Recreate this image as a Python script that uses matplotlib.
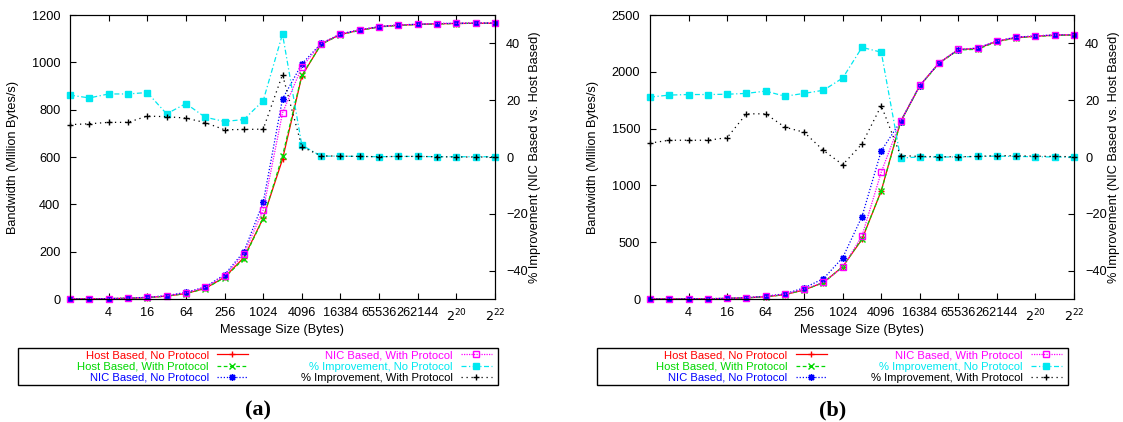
import matplotlib
matplotlib.use("Agg")
import matplotlib.pyplot as plt
from matplotlib.patches import Rectangle

plt.rcParams['font.family'] = ['Liberation Sans', 'DejaVu Sans']
plt.rcParams['font.size'] = 9.2

sizes = [1, 2, 4, 8, 16, 32, 64, 128, 256, 512, 1024, 2048, 4096, 8192, 16384,
         32768, 65536, 131072, 262144, 524288, 1048576, 2097152, 4194304]
tick_pos = [4, 16, 64, 256, 1024, 4096, 16384, 65536, 262144, 1048576, 4194304]
tick_labels = ["4", "16", "64", "256", "1024", "4096", "16384", "65536", "262144",
               "$2^{20}$", "$2^{22}$"]

# panel (a)
a_host_np = [0.3, 0.7, 1.5, 3, 6, 12, 23, 45, 92, 175, 342, 590, 942, 1077, 1118, 1136, 1150, 1157, 1160, 1163, 1164, 1165, 1165]
a_host_wp = [0.3, 0.7, 1.5, 3, 6, 12, 23, 44, 90, 170, 340, 605, 945, 1076, 1117, 1135, 1149, 1156, 1160, 1162, 1164, 1165, 1165]
a_nic_np = [0.4, 0.8, 1.8, 3.6, 7.3, 14, 28, 51, 103, 200, 408, 845, 993, 1080, 1120, 1138, 1151, 1158, 1161, 1164, 1165, 1166, 1166]
a_nic_wp = [0.35, 0.8, 1.7, 3.4, 7, 13.5, 26, 49, 98, 190, 376, 786, 980, 1079, 1119, 1137, 1150, 1158, 1161, 1164, 1165, 1166, 1166]
a_imp_np = [21.8, 20.8, 22.2, 22.2, 22.7, 15.2, 18.8, 14.0, 12.5, 13.2, 19.8, 43.3, 4.2, 0.3, 0.3, 0.2, 0.1, 0.2, 0.2, 0.1, 0.1, 0.1, 0.1]
a_imp_wp = [11.4, 11.7, 12.2, 12.2, 14.4, 14.2, 13.7, 12.1, 9.6, 9.7, 9.8, 29.0, 3.6, 0.4, 0.3, 0.2, 0.1, 0.2, 0.2, 0.1, 0.0, 0.0, 0.0]

# panel (b)
b_host_np = [0.3, 0.6, 1.2, 2.5, 5, 10, 20, 38, 80, 145, 285, 525, 953, 1560, 1878, 2078, 2195, 2205, 2268, 2300, 2313, 2322, 2325]
b_host_wp = [0.3, 0.6, 1.2, 2.5, 5, 10, 20, 38, 80, 144, 284, 532, 950, 1558, 1876, 2075, 2192, 2198, 2266, 2298, 2312, 2320, 2324]
b_nic_np = [0.37, 0.73, 1.5, 3, 6.1, 12.2, 24.6, 46, 98, 179, 364, 726, 1305, 1562, 1879, 2079, 2196, 2210, 2272, 2305, 2316, 2325, 2328]
b_nic_wp = [0.32, 0.64, 1.27, 2.65, 5.3, 11.5, 23, 42, 87, 148, 278, 556, 1117, 1565, 1880, 2080, 2197, 2208, 2272, 2303, 2315, 2324, 2327]
b_imp_np = [21.1, 21.8, 22.0, 22.0, 22.1, 22.4, 23.2, 21.4, 22.4, 23.5, 27.8, 38.6, 36.9, -0.35, 0.0, 0.0, 0.0, 0.2, 0.3, 0.2, 0.1, 0.0, 0.0]
b_imp_wp = [4.9, 5.9, 5.9, 5.9, 6.8, 15.2, 15.2, 10.5, 8.7, 2.3, -2.7, 4.6, 18.1, 0.5, 0.2, 0.1, 0.1, 0.2, 0.5, 0.4, 0.3, 0.2, 0.1]

RED = "#ff0000"
GREEN = "#00d800"
BLUE = "#0000ff"
MAGENTA = "#ff00ff"
CYAN = "#00e8f0"
BLACK = "#000000"

W, H = 1123, 422


def draw_panel(rect, box, host_np, host_wp, nic_np, nic_wp, imp_np, imp_wp, ymax, tag):
    ax = fig.add_axes(rect)
    ax2 = ax.twinx()

    kw = dict(lw=0.9, ms=5, clip_on=False)
    l1, = ax.plot(sizes, host_np, color=RED, ls="-", marker="+", label="Host Based, No Protocol", **kw)
    l2, = ax.plot(sizes, host_wp, color=GREEN, ls=(0, (3, 2)), marker="x", label="Host Based, With Protocol", **kw)
    l3, = ax.plot(sizes, nic_np, color=BLUE, ls=(0, (1, 1.5)), marker=(8, 2, 0), label="NIC Based, No Protocol", **kw)
    l4, = ax.plot(sizes, nic_wp, color=MAGENTA, ls=(0, (1, 1)), marker="s", mfc="none",
                  label="NIC Based, With Protocol", **kw)
    l5, = ax2.plot(sizes, imp_np, color=CYAN, ls=(0, (4, 2, 1, 2)), marker="s",
                   label="% Improvement, No Protocol", **kw)
    l6, = ax2.plot(sizes, imp_wp, color=BLACK, ls=(0, (1, 3)), marker="+",
                   label="% Improvement, With Protocol", **kw)

    ax.set_xscale("log", base=2)
    ax.set_xlim(1, 4194304)
    ax.set_xticks(tick_pos)
    ax.set_xticklabels(tick_labels)
    ax.minorticks_off()
    ax.set_ylim(0, ymax)
    ax2.set_ylim(-50, 50)
    ax2.set_yticks([-40, -20, 0, 20, 40])

    ax.tick_params(axis="x", direction="in", top=True, length=4, pad=6)
    ax.tick_params(axis="y", direction="in", length=4, pad=7)
    ax2.tick_params(axis="y", direction="in", length=4, pad=8)

    ax.set_xlabel("Message Size (Bytes)", labelpad=0)
    ax.set_ylabel("Bandwidth (Million Bytes/s)", labelpad=9)
    ax2.set_ylabel("% Improvement (NIC Based vs. Host Based)", labelpad=1)

    # legend frame, two right-aligned columns inside it
    x0, x1, y0, y1 = box
    fig.add_artist(Rectangle((x0 / W, 1 - y1 / H), (x1 - x0) / W, (y1 - y0) / H,
                             transform=fig.transFigure, fill=False, ec="black", lw=1.0))
    yc = 1 - (y0 + y1) / 2 / H
    cols = [([l1, l2, l3], x0 + 230), ([l4, l5, l6], x1 - 6)]
    for handles, xr in cols:
        fig.legend(handles=handles, loc="center right", bbox_to_anchor=(xr / W, yc),
                   bbox_transform=fig.transFigure, frameon=False, markerfirst=False,
                   labelcolor="linecolor", fontsize=8.1, handlelength=2.8,
                   handletextpad=0.7, labelspacing=0.1, borderpad=0, borderaxespad=0)

    fig.text((x0 + x1) / 2 / W, 1 - 410 / H, tag, ha="center", va="center", fontsize=16,
             fontweight="bold", family="Liberation Serif")


fig = plt.figure(figsize=(11.23, 4.22), dpi=100)

draw_panel([70 / W, 123 / H, 425 / W, 284 / H], (18, 498, 348, 385),
           a_host_np, a_host_wp, a_nic_np, a_nic_wp, a_imp_np, a_imp_wp, 1200, "(a)")
draw_panel([650 / W, 123 / H, 424 / W, 284 / H], (597, 1068, 348, 385),
           b_host_np, b_host_wp, b_nic_np, b_nic_wp, b_imp_np, b_imp_wp, 2500, "(b)")

fig.savefig("out.png", dpi=100)
